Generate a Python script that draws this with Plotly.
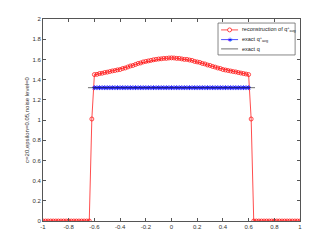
import numpy as np
import plotly.graph_objects as go

# grid of the reconstruction (step 0.02 on [-1, 1])
x_grid = np.round(np.linspace(-1, 1, 101), 2)

left_zeros = [0.0] * 19
right_zeros = [0.0] * 19
inner_vals = [1.45, 1.452, 1.46, 1.463, 1.47, 1.474, 1.48, 1.486, 1.49, 1.496,
              1.50, 1.51, 1.515, 1.525, 1.535, 1.54, 1.55, 1.56, 1.565, 1.575,
              1.58, 1.585, 1.59, 1.596, 1.60, 1.604, 1.606, 1.61, 1.61, 1.614,
              1.615, 1.614, 1.61, 1.61, 1.605, 1.60, 1.60, 1.594, 1.59, 1.58,
              1.575, 1.57, 1.56, 1.555, 1.545, 1.54, 1.53, 1.524, 1.515, 1.51,
              1.50, 1.495, 1.49, 1.485, 1.48, 1.476, 1.47, 1.465, 1.46, 1.455, 1.45]
recon_y = left_zeros + [1.01] + inner_vals + [1.01] + right_zeros

# exact q+_avg samples
exact_avg_x = x_grid[20:81]
exact_avg_y = [1.32] * 61

# exact q (support endpoints and level)
exact_q_x = [-0.65, 0.65]
exact_q_y = [1.32, 1.32]

xticks = [-1, -0.8, -0.6, -0.4, -0.2, 0, 0.2, 0.4, 0.6, 0.8, 1]
yticks = [0, 0.2, 0.4, 0.6, 0.8, 1, 1.2, 1.4, 1.6, 1.8, 2]

legend_labels = ["reconstruction of q<sup>+</sup><sub>avg</sub>",
                 "exact q<sup>+</sup><sub>avg</sub>",
                 "exact q"]
legend_colors = ["red", "blue", "#333333"]

FONT = "Liberation Sans"

fig = go.Figure()
fig.add_trace(go.Scatter(
    x=x_grid, y=recon_y, mode="lines+markers", name=legend_labels[0],
    line=dict(color="red", width=0.7),
    marker=dict(symbol="circle-open", size=4, color="red", line=dict(width=0.7)),
))
fig.add_trace(go.Scatter(
    x=exact_avg_x, y=exact_avg_y, mode="lines+markers", name=legend_labels[1],
    line=dict(color="blue", width=0.7),
    marker=dict(symbol="asterisk-open", size=4, color="blue",
                line=dict(width=0.8, color="blue")),
))
fig.add_trace(go.Scatter(
    x=exact_q_x, y=exact_q_y, mode="lines", name=legend_labels[2],
    line=dict(color="#333333", width=0.7),
))

axis_common = dict(
    showgrid=False, zeroline=False, showline=True, mirror="ticks",
    linecolor="#555555", linewidth=0.7, ticks="inside", ticklen=3,
    tickcolor="#555555", tickwidth=0.7, automargin=False,
    tickfont=dict(family=FONT, size=6, color="#333333"),
)

# compact MATLAB-style legend drawn in paper coordinates
shapes = [dict(type="rect", xref="paper", yref="paper",
               x0=0.681, x1=0.981, y0=0.822, y1=0.980,
               line=dict(color="#555555", width=0.7), fillcolor="white", layer="above")]
annotations = []
row_y = [0.946, 0.898, 0.852]
for i, (lab, col) in enumerate(zip(legend_labels, legend_colors)):
    shapes.append(dict(type="line", xref="paper", yref="paper",
                       x0=0.693, x1=0.759, y0=row_y[i], y1=row_y[i],
                       line=dict(color=col, width=0.7), layer="above"))
    annotations.append(dict(xref="paper", yref="paper", x=0.767, y=row_y[i],
                            xanchor="left", yanchor="middle", showarrow=False,
                            text=lab, font=dict(family=FONT, size=5.5, color="#222222")))
# marker glyphs of the legend
shapes.append(dict(type="circle", xref="paper", yref="paper",
                   xsizemode="pixel", ysizemode="pixel",
                   xanchor=0.726, yanchor=row_y[0], x0=-2, x1=2, y0=-2, y1=2,
                   line=dict(color="red", width=0.7), fillcolor="white", layer="above"))
annotations.append(dict(xref="paper", yref="paper", x=0.726, y=row_y[1],
                        xanchor="center", yanchor="middle", showarrow=False,
                        text="∗", font=dict(family="DejaVu Sans", size=7, color="blue")))

# page body has an 8px margin, so the figure is sized to the remaining area
fig.update_layout(
    width=324, height=241,
    margin=dict(l=35, r=32, t=11, b=28),
    paper_bgcolor="white", plot_bgcolor="white",
    showlegend=False,
    shapes=shapes, annotations=annotations,
    xaxis=dict(range=[-1, 1], tickvals=xticks,
               ticktext=[str(t) for t in xticks], **axis_common),
    yaxis=dict(range=[0, 2], tickvals=yticks,
               ticktext=[str(t) for t in yticks],
               title=dict(text="c=20,epsilon=0.05,noise level=0",
                          font=dict(family=FONT, size=6, color="#333333"),
                          standoff=2),
               **axis_common),
)

fig.write_html("out.html")
